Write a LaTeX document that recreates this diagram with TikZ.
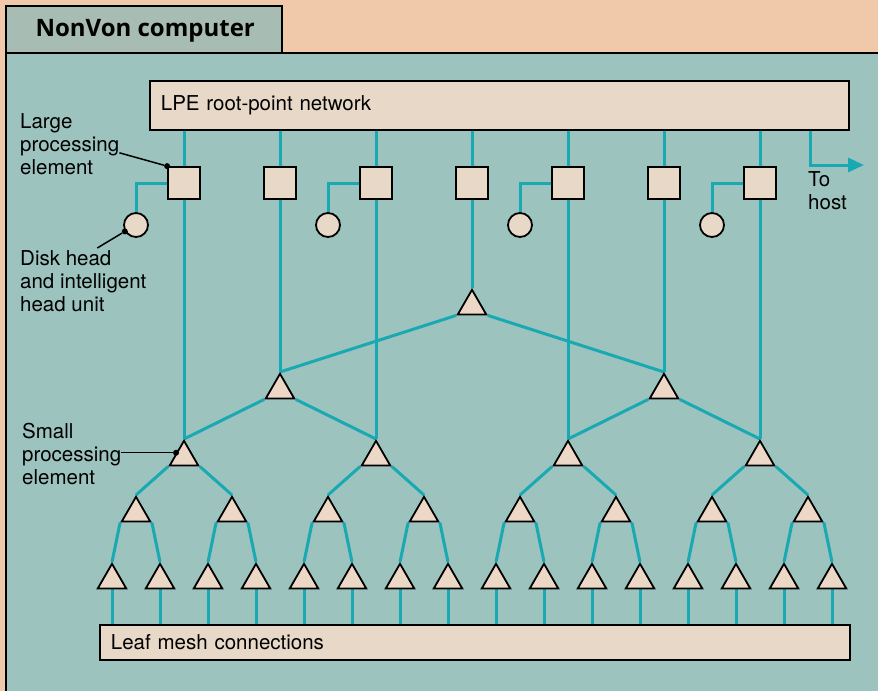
\documentclass[tikz,border=0pt]{standalone}
\usepackage{fontspec}
\setmainfont{TeX Gyre Heros}
\newfontfamily\titlefont{Open Sans}
\usetikzlibrary{arrows.meta,shapes.geometric,backgrounds}
\definecolor{paper}{HTML}{EFC9A9}
\definecolor{panel}{HTML}{9DC3BE}
\definecolor{tabfill}{HTML}{A7BCB3}
\definecolor{boxfill}{HTML}{E7D8C7}
\definecolor{trifill}{HTML}{EDD8C8}
\definecolor{wireC}{HTML}{19A9B2}

\begin{document}
\begin{tikzpicture}[x=1pt,y=-1pt,font=\fontsize{20.5}{23}\selectfont,
  wire/.style={draw=wireC,line width=3pt},
  lbox/.style={draw,line width=1.8pt,fill=boxfill,anchor=north west,inner xsep=11pt,align=left},
  lpe/.style={draw,line width=1.8pt,fill=boxfill,minimum size=32pt,inner sep=0pt},
  disk/.style={circle,draw,line width=1.8pt,fill=boxfill,minimum size=24pt,inner sep=0pt},
  spe/.style={regular polygon,regular polygon sides=3,draw,line width=1.8pt,fill=trifill,
              minimum size=33pt,inner sep=0pt,anchor=corner 1},
  note/.style={align=left,anchor=north west,inner sep=0pt},
  dot/.style={circle,fill=black,inner sep=0pt,minimum size=6pt}]
\useasboundingbox (0,0) rectangle (878,691);

% paper, panel and title tab
\begin{scope}[on background layer]
\fill[paper] (0,0) rectangle (878,691);
\fill[panel] (6,53) rectangle (878,691);
\fill[tabfill] (6,6) rectangle (282,53);
\draw[line width=1.5pt] (6,691) -- (6,6) -- (282,6) -- (282,53);
\draw[line width=1.5pt] (6,53) -- (878,53);
\end{scope}
\node[anchor=west,font=\titlefont\bfseries\fontsize{24}{26}\selectfont] (title) at (32,31) {NonVon computer};

% the two long boxes
\node[lbox,text width=677pt,minimum height=49pt] (lpe) at (149,80) {LPE root-point network};
\node[lbox,text width=728pt,minimum height=35pt] (leaf) at (99,624) {Leaf mesh connections};

% large processing elements and disk heads
\foreach \i/\x in {1/184,2/280,3/376,4/472,5/568,6/664,7/760}
  \node[lpe] (sq\i) at (\x,183) {};
\foreach \i/\x in {1/136,3/328,5/520,7/712}
  \node[disk] (dk\i) at (\x,225) {};

% small processing elements, numbered as a heap
\node[spe] (s1) at (472,288) {};
\foreach \k/\x in {2/280,3/664}
  \node[spe] (s\k) at (\x,372) {};
\foreach \k/\x in {4/184,5/376,6/568,7/760}
  \node[spe] (s\k) at (\x,439) {};
\foreach \k/\x in {8/136,9/232,10/328,11/424,12/520,13/616,14/712,15/808}
  \node[spe] (s\k) at (\x,495) {};
\foreach \k/\x in {16/112,17/160,18/208,19/256,20/304,21/352,22/400,23/448,
                   24/496,25/544,26/592,27/640,28/688,29/736,30/784,31/832}
  \node[spe] (s\k) at (\x,562) {};

% wiring
\begin{scope}[on background layer]
\foreach \i/\k in {1/4,2/2,3/5,4/1,5/6,6/3,7/7}{
  \draw[wire] (sq\i) -- (lpe.south -| sq\i);
  \draw[wire] (sq\i) -- (s\k.corner 1);
}
\foreach \i in {1,3,5,7}
  \draw[wire] (dk\i) |- (sq\i);
\foreach \k in {2,...,31}{
  \pgfmathtruncatemacro\p{\k/2}
  \pgfmathtruncatemacro\c{2+mod(\k,2)}
  \draw[wire] (s\p.corner \c) -- (s\k.corner 1);
}
\foreach \k in {16,...,31}
  \draw[wire] (s\k) -- (s\k |- leaf.north);
\end{scope}

% to host
\coordinate (bend) at (810,165);
\coordinate (host) at (864,165);
\draw[wire,-{Triangle[length=16pt,width=14pt]}] (lpe.south -| bend) -- (bend) -- (host);
\node[note] (tohost) at (808,171) {To\\host};

% call-outs
\node[note] (lpelab) at (20,113) {Large\\processing\\element};
\node[dot] (d1) at (sq1.north west) {};
\draw[line width=1.5pt] ([yshift=-9pt]lpelab.east) -- (d1);

\node[note] (dklab) at (20,250) {Disk head\\and intelligent\\head unit};
\node[dot] (d2) at (dk1.210) {};
\draw[line width=1.5pt] ([xshift=14pt,yshift=2pt]dklab.north) -- (d2);

\node[note] (spelab) at (22,423) {Small\\processing\\element};
\node[dot] (d3) at (s4.side 1) {};
\draw[line width=1.5pt] (spelab.east |- d3) -- (d3);
\end{tikzpicture}
\end{document}
